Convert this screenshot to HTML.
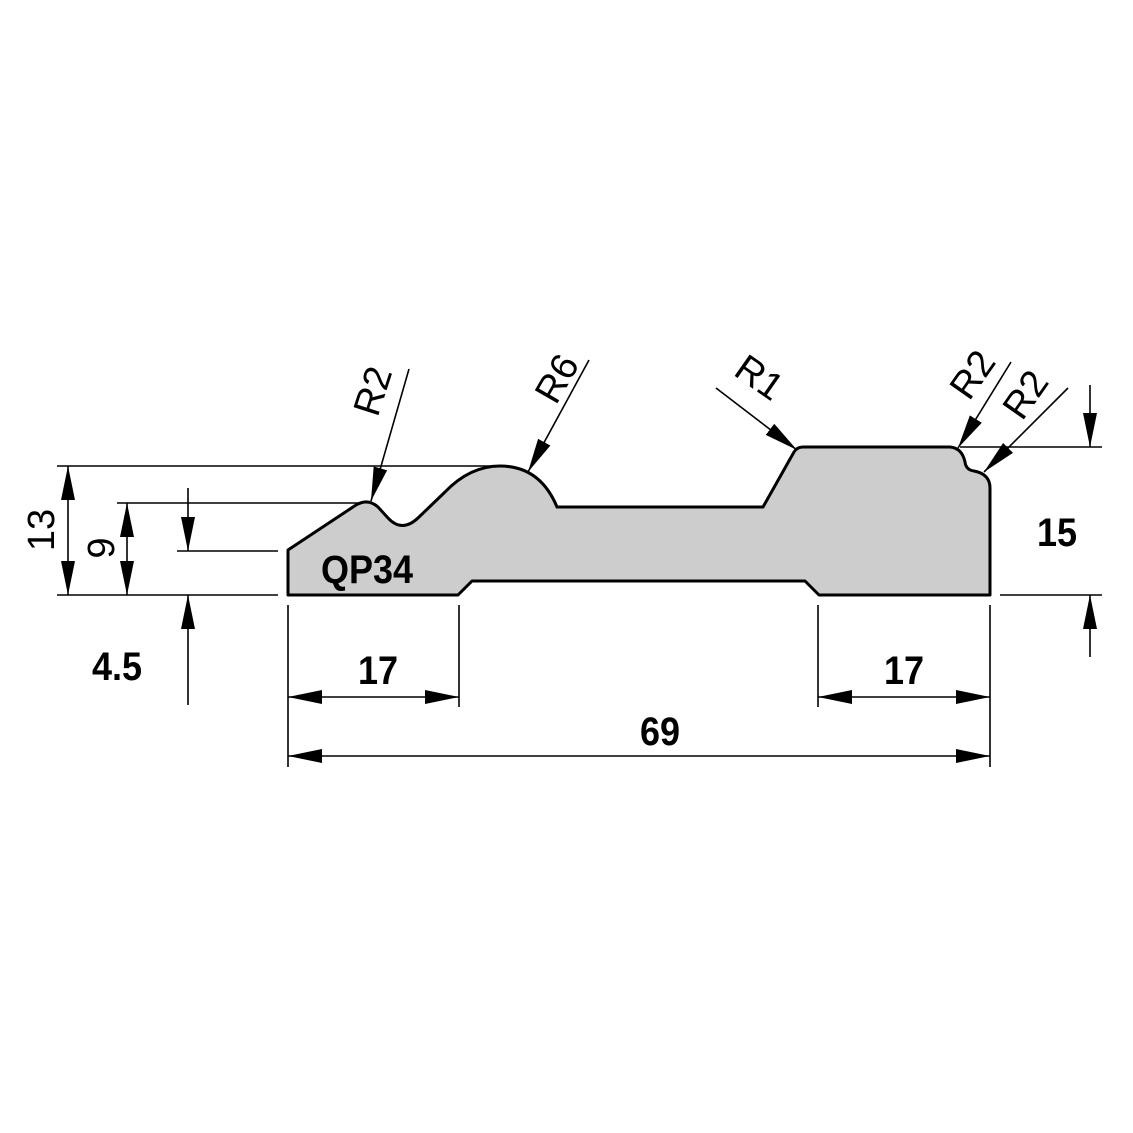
<!DOCTYPE html>
<html><head><meta charset="utf-8"><style>html,body{margin:0;padding:0;background:#fff}svg{display:block}</style></head>
<body>
<svg width="1133" height="1133" viewBox="0 0 1133 1133" xmlns="http://www.w3.org/2000/svg">
<defs>
<marker id="a" viewBox="0 0 34 14" refX="34" refY="7" markerWidth="34" markerHeight="14" markerUnits="userSpaceOnUse" orient="auto"><path d="M0,0 L34,7 L0,14 Z" fill="#000"/></marker>
<marker id="b" viewBox="0 0 34 14" refX="0" refY="7" markerWidth="34" markerHeight="14" markerUnits="userSpaceOnUse" orient="auto"><path d="M34,0 L0,7 L34,14 Z" fill="#000"/></marker>
</defs>
<path d="M288,595 L458,595 L472,581 L805,581 L819,595 L990,595 L990,488 Q990,474 974,471 Q966,470 965,462 Q962,448 950,447 L803,447 Q797,447 794,452 L763,507 L557,507 Q540,466 500,466 Q470,466 445,492 L418,518 Q402,533 388,518 L378,507 Q368,498 356,505 L288,550 Z" fill="#cdcdcd" stroke="#000" stroke-width="3" stroke-linejoin="round"/>
<text transform="translate(367,583) scale(0.9,1)" font-family="Liberation Sans, sans-serif" font-weight="bold" font-size="40" text-anchor="middle">QP34</text>
<g stroke="#000" stroke-width="1.6" fill="none">
<line x1="57" y1="466" x2="500" y2="466"/>
<line x1="117" y1="503" x2="360" y2="503"/>
<line x1="177" y1="551" x2="278" y2="551"/>
<line x1="57" y1="595" x2="278" y2="595"/>
<line x1="288" y1="605" x2="288" y2="767"/>
<line x1="459" y1="605" x2="459" y2="707"/>
<line x1="818" y1="605" x2="818" y2="707"/>
<line x1="990" y1="605" x2="990" y2="767"/>
<line x1="960" y1="447" x2="1102" y2="447"/>
<line x1="1000" y1="595" x2="1102" y2="595"/>
<line x1="68" y1="466" x2="68" y2="595" marker-start="url(#b)" marker-end="url(#a)"/>
<line x1="127" y1="503" x2="127" y2="595" marker-start="url(#b)" marker-end="url(#a)"/>
<line x1="188" y1="488" x2="188" y2="551" marker-end="url(#a)"/>
<line x1="188" y1="705" x2="188" y2="595" marker-end="url(#a)"/>
<line x1="288" y1="697" x2="459" y2="697" marker-start="url(#b)" marker-end="url(#a)"/>
<line x1="818" y1="697" x2="990" y2="697" marker-start="url(#b)" marker-end="url(#a)"/>
<line x1="288" y1="756" x2="990" y2="756" marker-start="url(#b)" marker-end="url(#a)"/>
<line x1="1090" y1="385" x2="1090" y2="447" marker-end="url(#a)"/>
<line x1="1090" y1="657" x2="1090" y2="595" marker-end="url(#a)"/>
<line x1="409" y1="369" x2="371" y2="501" marker-end="url(#a)"/>
<line x1="589" y1="360" x2="528" y2="472" marker-end="url(#a)"/>
<line x1="716" y1="388" x2="797" y2="450" marker-end="url(#a)"/>
<line x1="1011" y1="362" x2="958" y2="448" marker-end="url(#a)"/>
<line x1="1068" y1="388" x2="984" y2="472" marker-end="url(#a)"/>
</g>
<g font-family="Liberation Sans, sans-serif" font-size="38" text-anchor="middle">
<text transform="translate(385,395) rotate(-72)">R2</text>
<text transform="translate(568,385) rotate(-60)">R6</text>
<text transform="translate(752,388) rotate(35)">R1</text>
<text transform="translate(983,382) rotate(-55)">R2</text>
<text transform="translate(1036,402) rotate(-55)">R2</text>
<text transform="translate(54,530) rotate(-90)">13</text>
<text transform="translate(114,548) rotate(-90)">9</text>
</g>
<g font-family="Liberation Sans, sans-serif" font-weight="bold" font-size="40" text-anchor="middle">
<text transform="translate(117,680) scale(0.9,1)">4.5</text>
<text transform="translate(378,684) scale(0.9,1)">17</text>
<text transform="translate(904,684) scale(0.9,1)">17</text>
<text transform="translate(660,745) scale(0.9,1)">69</text>
<text transform="translate(1057,546) scale(0.9,1)">15</text>
</g>
</svg>
</body></html>
